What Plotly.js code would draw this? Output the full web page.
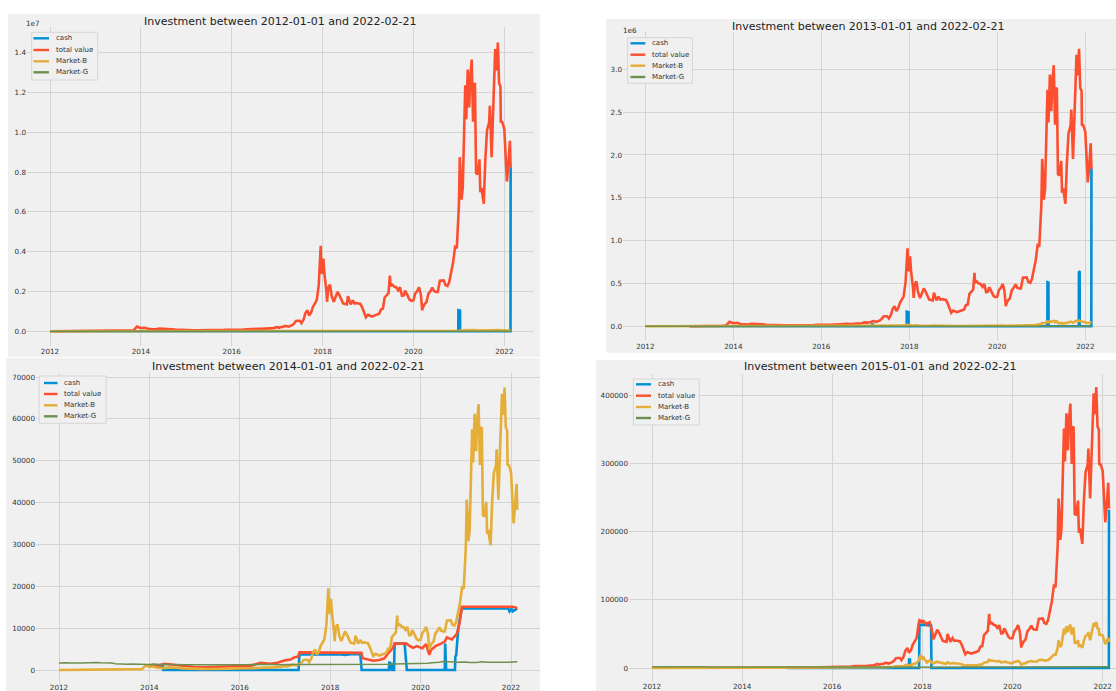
<!DOCTYPE html>
<html>
<head>
<meta charset="utf-8">
<script src="https://cdn.plot.ly/plotly-3.0.1.min.js"></script>
<style>html,body{margin:0;padding:0;background:#fff;}#chart{width:1116px;height:691px;}</style>
</head>
<body>
<div id="chart"></div>
<script>
// ---------------- DATA ----------------
const seriesNames = ['cash', 'total value', 'Market-B', 'Market-G'];
const panelTitles = [
  'Investment between 2012-01-01 and 2022-02-21',
  'Investment between 2013-01-01 and 2022-02-21',
  'Investment between 2014-01-01 and 2022-02-21',
  'Investment between 2015-01-01 and 2022-02-21'
];
const xTickVals = ['2012-01-01','2014-01-01','2016-01-01','2018-01-01','2020-01-01','2022-01-01'];
const xTickText = ['2012','2014','2016','2018','2020','2022'];
const y1TickVals = [0,2e6,4e6,6e6,8e6,10e6,12e6,14e6];
const y1TickText = ['0.0','0.2','0.4','0.6','0.8','1.0','1.2','1.4'];
const y2TickVals = [0,5e5,1e6,1.5e6,2e6,2.5e6,3e6];
const y2TickText = ['0.0','0.5','1.0','1.5','2.0','2.5','3.0'];
const y3TickVals = [0,10000,20000,30000,40000,50000,60000,70000];
const y3TickText = ['0','10000','20000','30000','40000','50000','60000','70000'];
const y4TickVals = [0,100000,200000,300000,400000];
const y4TickText = ['0','100000','200000','300000','400000'];

const dates = [
 '2012-01-01','2012-02-01','2012-03-01','2012-04-01','2012-05-01','2012-06-01','2012-07-01','2012-08-01','2012-09-01','2012-10-01','2012-11-01','2012-12-01',
 '2013-01-01','2013-02-01','2013-03-01','2013-04-01','2013-05-01','2013-06-01','2013-07-01','2013-08-01','2013-09-01','2013-10-01','2013-11-01','2013-12-01',
 '2014-01-01','2014-02-01','2014-03-01','2014-04-01','2014-05-01','2014-06-01','2014-07-01','2014-08-01','2014-09-01','2014-10-01','2014-11-01','2014-12-01',
 '2015-01-01','2015-02-01','2015-03-01','2015-04-01','2015-05-01','2015-06-01','2015-07-01','2015-08-01','2015-09-01','2015-10-01','2015-11-01','2015-12-01',
 '2016-01-01','2016-02-01','2016-03-01','2016-04-01','2016-05-01','2016-06-01','2016-07-01','2016-08-01','2016-09-01','2016-10-01','2016-11-01','2016-12-01',
 '2017-01-01','2017-01-15','2017-02-01','2017-02-15','2017-03-01','2017-03-15','2017-04-01','2017-04-15','2017-05-01','2017-05-15','2017-06-01','2017-06-15','2017-07-01','2017-07-15','2017-08-01','2017-08-15','2017-09-01','2017-09-15','2017-10-01','2017-10-15','2017-11-01','2017-11-15','2017-12-01','2017-12-08','2017-12-17','2017-12-22',
 '2018-01-01','2018-01-07','2018-01-15','2018-02-01','2018-02-06','2018-02-15','2018-03-01','2018-03-15','2018-04-01','2018-04-15','2018-05-01','2018-05-15','2018-06-01','2018-06-15','2018-07-01','2018-07-15','2018-07-24','2018-08-01','2018-08-15','2018-09-01','2018-09-15','2018-10-01','2018-10-15','2018-11-01','2018-11-15','2018-12-01','2018-12-15',
 '2019-01-01','2019-01-15','2019-02-01','2019-02-15','2019-03-01','2019-03-15','2019-04-01','2019-04-15','2019-05-01','2019-05-15','2019-06-01','2019-06-15','2019-06-26','2019-07-01','2019-07-15','2019-08-01','2019-08-15','2019-09-01','2019-09-15','2019-10-01','2019-10-15','2019-10-26','2019-11-01','2019-11-15','2019-12-01','2019-12-15',
 '2020-01-01','2020-01-15','2020-02-01','2020-02-15','2020-03-01','2020-03-12','2020-03-15','2020-04-01','2020-04-15','2020-05-01','2020-05-15','2020-06-01','2020-06-15','2020-07-01','2020-07-15','2020-08-01','2020-08-15','2020-09-01','2020-09-15','2020-10-01','2020-10-15','2020-11-01','2020-11-15','2020-12-01','2020-12-15',
 '2021-01-01','2021-01-08','2021-01-15','2021-01-22','2021-02-01','2021-02-15','2021-02-21','2021-03-01','2021-03-13','2021-03-25','2021-04-01','2021-04-14','2021-04-25','2021-05-01','2021-05-10','2021-05-19','2021-06-01','2021-06-15','2021-06-22','2021-07-01','2021-07-20','2021-08-01','2021-08-15','2021-09-01','2021-09-07','2021-09-21','2021-10-01','2021-10-15','2021-10-20','2021-11-01','2021-11-10','2021-11-20','2021-12-01','2021-12-04','2021-12-15',
 '2022-01-01','2022-01-10','2022-01-22','2022-02-01','2022-02-10','2022-02-15','2022-02-21'
];

const marketB = [
 5.3,6.1,4.9,4.9,5.0,5.3,6.7,9.4,10.1,12.4,10.6,12.6,
 13.3,20.4,34,104,117,129,88,106,141,133,206,1100,
 750,830,560,480,450,630,635,590,480,385,325,380,
 315,225,260,245,235,225,260,280,230,237,325,378,
 430,370,435,417,450,535,675,605,572,610,730,750,
 1000,820,990,1010,1220,1250,1080,1180,1420,1750,2400,2450,2450,1900,2750,4200,4900,3700,4400,5700,6700,7300,10800,16000,19500,13800,
 13500,17000,13600,9200,6900,10200,10900,8200,6900,8000,9200,8500,7500,6500,6400,6300,8200,7600,6300,7200,6500,6600,6500,6400,5600,4200,3300,
 3850,3600,3450,3600,3800,3900,4100,5100,5300,7900,8500,8900,13000,10600,10900,10400,10300,9600,10300,8300,8400,9500,9200,8500,7400,7100,
 7200,8800,9400,10300,8600,4900,5400,6400,6800,8800,9300,10200,9400,9200,9200,11800,11900,11900,10800,10600,11500,13800,16000,19700,19400,
 29400,40700,36800,30800,33500,48600,57500,49600,61200,52300,58800,63500,49000,57700,58000,37000,36700,40200,32500,33500,29800,39800,47000,48800,52700,40700,48200,61600,66000,61000,67500,58000,57200,49000,48900,
 47300,41800,35000,38500,44300,44500,38300
];

const total1 = [
 1000,1310,1050,1050,1080,1140,1440,2020,2170,2670,2280,2710,
 2860,4390,7310,22360,25160,27740,18920,22790,30320,28600,44290,236500,
 161250,178450,120400,103200,96750,135450,136530,126850,103200,82780,69880,81700,
 67730,48380,55900,52680,50530,48380,55900,60200,49450,50960,69880,81270,
 92450,79550,93530,89660,96750,115030,145130,130080,122980,131150,156950,161250,
 215000,176300,212850,217150,262300,268750,232200,253700,305300,376250,516000,526750,526750,408500,591250,903000,1053500,795500,946000,1225500,1440500,1569500,2322000,3440000,4300000,2967000,
 2902500,3655000,2924000,1978000,1483500,2193000,2343500,1763000,1483500,1720000,1978000,1827500,1612500,1397500,1376000,1354500,1763000,1634000,1354500,1548000,1397500,1419000,1397500,1376000,1204000,903000,709500,
 827750,774000,741750,774000,817000,838500,881500,1096500,1139500,1698500,1827500,1913500,2795000,2279000,2343500,2236000,2214500,2064000,2214500,1784500,1806000,2042500,1978000,1827500,1591000,1526500,
 1548000,1892000,2021000,2214500,1849000,1053500,1161000,1376000,1462000,1892000,1999500,2193000,2021000,1978000,1978000,2537000,2558500,2558500,2322000,2279000,2472500,2967000,3440000,4235500,4171000,
 6321000,8750500,7912000,6622000,7202500,10449000,12362500,10664000,13158000,11244500,12642000,13652500,10535000,12405500,12470000,7955000,7890500,8643000,6987500,7202500,6407000,8557000,10105000,10492000,11330500,8750500,10363000,13244000,14190000,13115000,14512500,12470000,12298000,10535000,10513500,
 10169500,8987000,7525000,8277500,9524500,9567500,8234500
];

const total2 = [
 null,null,null,null,null,null,null,null,null,null,null,null,
 1000,980,1630,4990,5620,6190,4220,5090,6770,6380,9890,52800,
 36000,39840,26880,23040,21600,30240,30480,28320,23040,18480,15600,18240,
 15120,10800,12480,11760,11280,10800,12480,13440,11040,11380,15600,18140,
 20640,17760,20880,20020,21600,25680,32400,29040,27460,29280,35040,36000,
 48000,39360,47520,48480,58560,60000,51840,56640,68160,84000,115200,117600,117600,91200,132000,201600,235200,177600,211200,273600,321600,350400,518400,768000,910000,662400,
 648000,816000,652800,441600,331200,489600,523200,393600,331200,384000,441600,408000,360000,312000,307200,302400,393600,364800,302400,345600,312000,316800,312000,307200,268800,201600,158400,
 184800,172800,165600,172800,182400,187200,196800,244800,254400,379200,408000,427200,624000,508800,523200,499200,494400,460800,494400,398400,403200,456000,441600,408000,355200,340800,
 345600,422400,451200,494400,412800,235200,259200,307200,326400,422400,446400,489600,451200,441600,441600,566400,571200,571200,518400,508800,552000,662400,768000,945600,931200,
 1411200,1953600,1766400,1478400,1608000,2332800,2760000,2380800,2937600,2510400,2822400,3048000,2352000,2769600,2784000,1776000,1761600,1929600,1560000,1608000,1430400,1910400,2256000,2342400,2529600,1953600,2313600,2956800,3168000,2928000,3240000,2784000,2745600,2352000,2347200,
 2270400,2006400,1680000,1848000,2126400,2136000,1838400
];

const total4 = [
 null,null,null,null,null,null,null,null,null,null,null,null,
 null,null,null,null,null,null,null,null,null,null,null,null,
 null,null,null,null,null,null,null,null,null,null,null,null,
 1000,713,824,777,745,713,824,888,729,751,1030,1198,
 1500,1300,1520,1460,1580,2140,2700,2420,2290,2900,3650,4100,
 6000,4920,5940,6060,7320,7500,6480,7080,8520,10500,14400,14700,14700,11400,16500,25200,29400,22200,26400,34200,40200,43800,64800,70000,69000,66000,
 68000,70000,67000,66000,64000,66000,67000,58000,42100,48800,56100,51900,45800,39700,39000,38400,50000,46400,38400,43900,39700,40300,39700,39000,34200,25600,20100,
 23500,22000,21000,22000,23200,23800,25000,31100,32300,48200,51900,54300,79300,64700,66500,63400,62800,58600,62800,50600,51200,58000,56100,51900,45100,43300,
 43900,53700,57300,62800,52500,29900,32900,39000,41500,53700,56700,62200,57300,56100,56100,72000,72600,72600,65900,64700,70200,84200,97600,120200,118300,
 179300,248300,224500,187900,204400,296500,350800,302600,373300,319000,358700,387400,298900,352000,353800,225700,223900,245200,198300,204400,181800,242800,286700,297700,321500,248300,294000,375800,402600,372100,411800,353800,348900,298900,298300,
 288500,255000,213500,234900,270200,271500,233600
];

const total3Dates = ['2014-01-01','2014-02-01','2014-03-01','2014-04-01','2014-05-01','2014-06-01','2014-07-01','2014-09-01','2014-11-01','2015-01-01','2015-04-01','2015-07-01','2015-10-01','2016-01-01','2016-04-01','2016-06-15','2016-09-01','2016-11-01','2017-01-01','2017-02-15','2017-03-15','2017-04-15','2017-04-28','2018-09-10','2018-09-20','2018-11-01','2018-12-15','2019-02-01','2019-03-15','2019-04-15','2019-05-20','2019-06-05','2019-09-10','2019-10-01','2019-11-01','2019-12-01','2020-01-15','2020-02-15','2020-03-12','2020-03-25','2020-05-01','2020-06-15','2020-07-15','2020-08-01','2020-09-10','2020-10-01','2020-10-20','2020-11-10','2020-12-01','2022-01-15','2022-02-21'];
const total3 = [1000,1300,1100,1200,1500,1400,1250,1000,850,700,650,700,750,950,1050,1700,1500,1750,2300,2500,3000,3200,4200,4100,2800,2500,2200,2400,2800,4000,5200,6300,6300,5800,5300,5700,5200,6200,3600,4800,5700,6300,6800,7800,7300,8000,8600,11000,15100,15100,14800];

const cash1Dates = ['2012-01-01','2020-12-27','2020-12-28','2021-01-10','2021-01-11','2022-02-20','2022-02-21'];
const cash1 = [0,0,1060000,1040000,0,0,8240000];
const cash2Dates = ['2013-01-01','2017-02-25','2017-02-26','2017-03-05','2017-03-06','2017-12-10','2017-12-11','2017-12-25','2017-12-26','2021-02-20','2021-02-21','2021-03-01','2021-03-02','2021-11-08','2021-11-09','2021-11-15','2021-11-16','2022-02-20','2022-02-21'];
const cash2 = [0,0,20000,20000,0,0,170000,165000,0,0,515000,510000,0,0,640000,635000,0,0,1845000];
const cash3Dates = ['2014-01-01','2014-04-20','2014-04-22','2017-04-20','2017-04-28','2017-12-01','2018-04-01','2018-05-01','2018-06-15','2018-09-01','2018-09-12','2019-04-20','2019-04-24','2019-04-28','2019-05-10','2019-05-14','2019-06-01','2019-06-05','2019-08-25','2019-09-12','2020-07-15','2020-07-18','2020-07-26','2020-10-05','2020-10-08','2020-10-15','2020-11-01','2020-11-28','2021-12-10','2021-12-20','2022-01-05','2022-01-15','2022-02-21'];
const cash3 = [1000,1000,0,0,3800,3800,3700,3600,3800,3800,0,0,2100,0,1800,0,0,6300,6300,0,0,6300,0,0,3200,3500,10000,14700,14700,14000,14600,14000,14700];
const cash4Dates = ['2015-01-01','2017-09-14','2017-09-15','2017-09-22','2017-09-23','2017-12-05','2017-12-08','2018-01-20','2018-03-12','2018-03-15','2022-02-20','2022-02-21'];
const cash4 = [0,0,12500,12500,0,0,63000,63500,62000,0,0,232000];

const goldDates = [
 '2012-01','2012-02','2012-03','2012-04','2012-05','2012-06','2012-07','2012-08','2012-09','2012-10','2012-11','2012-12',
 '2013-01','2013-02','2013-03','2013-04','2013-05','2013-06','2013-07','2013-08','2013-09','2013-10','2013-11','2013-12',
 '2014-01','2014-02','2014-03','2014-04','2014-05','2014-06','2014-07','2014-08','2014-09','2014-10','2014-11','2014-12',
 '2015-01','2015-02','2015-03','2015-04','2015-05','2015-06','2015-07','2015-08','2015-09','2015-10','2015-11','2015-12',
 '2016-01','2016-02','2016-03','2016-04','2016-05','2016-06','2016-07','2016-08','2016-09','2016-10','2016-11','2016-12',
 '2017-01','2017-02','2017-03','2017-04','2017-05','2017-06','2017-07','2017-08','2017-09','2017-10','2017-11','2017-12',
 '2018-01','2018-02','2018-03','2018-04','2018-05','2018-06','2018-07','2018-08','2018-09','2018-10','2018-11','2018-12',
 '2019-01','2019-02','2019-03','2019-04','2019-05','2019-06','2019-07','2019-08','2019-09','2019-10','2019-11','2019-12',
 '2020-01','2020-02','2020-03','2020-04','2020-05','2020-06','2020-07','2020-08','2020-09','2020-10','2020-11','2020-12',
 '2021-01','2021-02','2021-03','2021-04','2021-05','2021-06','2021-07','2021-08','2021-09','2021-10','2021-11','2021-12',
 '2022-01','2022-02-21'
];
const marketG = [
 1700,1770,1720,1700,1610,1650,1670,1700,1820,1770,1770,1710,
 1720,1680,1650,1520,1440,1280,1370,1440,1380,1370,1300,1250,
 1300,1370,1340,1340,1300,1370,1340,1340,1260,1220,1230,1250,
 1330,1260,1230,1230,1240,1220,1145,1180,1165,1190,1115,1110,
 1170,1290,1280,1340,1265,1370,1400,1360,1365,1320,1225,1200,
 1260,1300,1300,1320,1320,1290,1320,1370,1330,1320,1325,1350,
 1390,1370,1375,1365,1350,1300,1275,1250,1240,1265,1270,1330,
 1370,1365,1340,1335,1355,1460,1465,1570,1520,1560,1510,1570,
 1640,1640,1630,1750,1780,1830,2020,2020,1940,1930,1830,1940,
 1900,1780,1760,1820,1950,1820,1860,1865,1805,1830,1825,1855,
 1850,1950
];

// ---------------- STYLE / LAYOUT ----------------
const W = 1116, H = 691;
const colors = ['#008fd5', '#fc4f30', '#e5ae38', '#6d904f'];
const FONT = 'DejaVu Sans, sans-serif';
const GRID = '#d4d4d4';
const BG = '#f0f0f0';

const iso = ms => new Date(ms).toISOString().slice(0, 19).replace('T', ' ');
const common = {
  showgrid: true, gridcolor: GRID, gridwidth: 1, zeroline: false, showline: false,
  ticks: '', tickfont: {family: FONT, size: 7.2, color: '#333'}, fixedrange: true, automargin: false
};
function xAx(L, R, p12, p22, anchor, standoff) {
  const t0 = Date.UTC(2012, 0, 1), t1 = Date.UTC(2022, 0, 1);
  const k = (t1 - t0) / (p22 - p12);
  const ax = Object.assign({}, common, {
    type: 'date', domain: [L / W, R / W], anchor: anchor,
    range: [iso(t0 - (p12 - L) * k), iso(t0 + (R - p12) * k)],
    tickmode: 'array', tickvals: xTickVals, ticktext: xTickText
  });
  if (standoff !== undefined) ax.ticklabelstandoff = standoff;
  return ax;
}
function yAx(T, B, p0, v1, p1, tv, tt, anchor) {
  const k = v1 / (p0 - p1);
  return Object.assign({}, common, {
    domain: [1 - B / H, 1 - T / H], anchor: anchor,
    range: [-(B - p0) * k, (p0 - T) * k],
    tickmode: 'array', tickvals: tv, ticktext: tt
  });
}

const panels = [
  {xa: 'x',  ya: 'y',  cashX: cash1Dates, cash: cash1, totX: dates, tot: total1},
  {xa: 'x2', ya: 'y2', cashX: cash2Dates, cash: cash2, totX: dates, tot: total2},
  {xa: 'x3', ya: 'y3', cashX: cash3Dates, cash: cash3, totX: total3Dates, tot: total3},
  {xa: 'x4', ya: 'y4', cashX: cash4Dates, cash: cash4, totX: dates, tot: total4}
];
const traces = [];
panels.forEach(p => {
  const xs = [p.cashX, p.totX, dates, goldDates];
  const ys = [p.cash, p.tot, marketB, marketG];
  for (let i = 0; i < 4; i++) {
    traces.push({
      type: 'scatter', mode: 'lines', name: seriesNames[i], x: xs[i], y: ys[i],
      xaxis: p.xa, yaxis: p.ya, showlegend: false, hoverinfo: 'skip',
      line: {color: colors[i], width: i === 3 ? 1.5 : 2.6}
    });
  }
});

const shapes = [];
const annotations = [];
function px(x) { return x / W; }
function py(y) { return 1 - y / H; }
function bgRect(x0, y0, x1, y1) {
  shapes.push({type: 'rect', xref: 'paper', yref: 'paper', x0: px(x0), x1: px(x1), y0: py(y1), y1: py(y0),
    fillcolor: BG, line: {width: 0}, layer: 'below'});
}
bgRect(8, 14, 540, 357);
bgRect(606, 19, 1116, 352.7);
bgRect(6, 358, 540, 691);
bgRect(596, 360, 1116, 691);

function title(text, cx, cy) {
  annotations.push({text: text, xref: 'paper', yref: 'paper', x: px(cx), y: py(cy), xanchor: 'center', yanchor: 'middle',
    showarrow: false, font: {family: FONT, size: 11, color: '#222'}});
}
title(panelTitles[0], 280, 21);
title(panelTitles[1], 868, 27);
title(panelTitles[2], 288, 366);
title(panelTitles[3], 880, 367);

function offsetText(text, cx, cy) {
  annotations.push({text: text, xref: 'paper', yref: 'paper', x: px(cx), y: py(cy), xanchor: 'center', yanchor: 'middle',
    showarrow: false, font: {family: FONT, size: 7.2, color: '#333'}});
}
offsetText('1e7', 33, 24);
offsetText('1e6', 630, 30);

function legendBox(L, T, R, B, ys, hL, hR, tx) {
  shapes.push({type: 'rect', xref: 'paper', yref: 'paper', x0: px(L), x1: px(R), y0: py(B), y1: py(T),
    fillcolor: BG, line: {color: '#d6d6d6', width: 1}, layer: 'above'});
  for (let i = 0; i < 4; i++) {
    shapes.push({type: 'line', xref: 'paper', yref: 'paper', x0: px(hL), x1: px(hR), y0: py(ys[i]), y1: py(ys[i]),
      line: {color: colors[i], width: 2.4}, layer: 'above'});
    annotations.push({text: seriesNames[i], xref: 'paper', yref: 'paper', x: px(tx), y: py(ys[i]), xanchor: 'left', yanchor: 'middle',
      showarrow: false, font: {family: FONT, size: 7, color: '#333'}});
  }
}
legendBox(31.7, 32.3, 97.7, 80, [38.3, 50, 61.3, 72.3], 33.5, 49, 54);
legendBox(627.6, 37.7, 692.4, 83.3, [43.3, 54.7, 65.7, 77], 630.5, 645.3, 650);
legendBox(39.2, 376, 106.1, 423.3, [383, 394, 405.3, 416.3], 44, 57.5, 62);
legendBox(633.3, 379, 699.3, 425, [384.3, 395.7, 407, 418], 636, 651, 656);

const layout = {
  width: W, height: H, margin: {l: 0, r: 0, t: 0, b: 0, pad: 0},
  paper_bgcolor: '#ffffff', plot_bgcolor: BG, showlegend: false, hovermode: false,
  font: {family: FONT, size: 8, color: '#333'},
  xaxis:  xAx(27, 534, 50, 504.3, 'y'),
  yaxis:  yAx(27.2, 345.8, 331.3, 14e6, 52.7, y1TickVals, y1TickText, 'x'),
  xaxis2: xAx(623, 1116, 645.3, 1085.3, 'y2'),
  yaxis2: yAx(32.2, 340.3, 326.3, 3e6, 69.3, y2TickVals, y2TickText, 'x2'),
  xaxis3: xAx(36, 540, 59, 511, 'y3', -2),
  yaxis3: yAx(372.9, 684.1, 670, 70000, 377, y3TickVals, y3TickText, 'x3'),
  xaxis4: xAx(629, 1116, 652, 1102.7, 'y4', -1),
  yaxis4: yAx(374.2, 682, 668, 400000, 395, y4TickVals, y4TickText, 'x4'),
  shapes: shapes, annotations: annotations
};
Plotly.newPlot('chart', traces, layout, {staticPlot: true, displayModeBar: false});
</script>
</body>
</html>
